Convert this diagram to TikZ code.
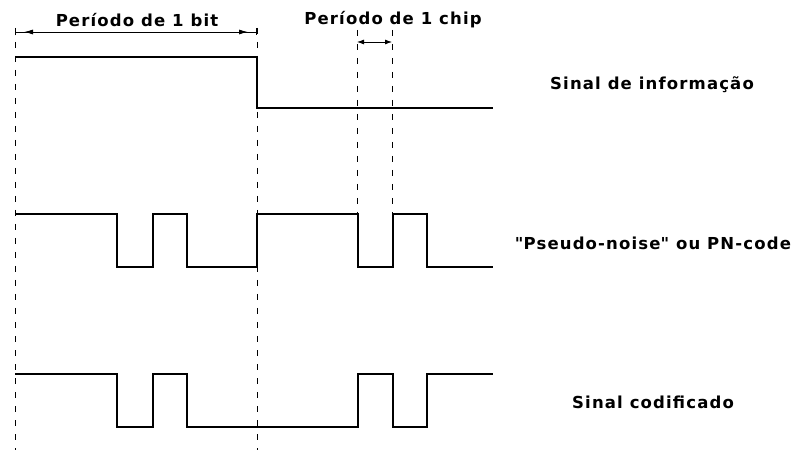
\documentclass[tikz,border=0pt]{standalone}
\usepackage{fontspec}
\setmainfont{DejaVu Sans}
\usepackage{tikz}
\usetikzlibrary{arrows.meta}
\usetikzlibrary{calc}

\tikzset{
	sig/.style={line width=2.6pt, line join=miter},
	codsig/.style={line width=1.6pt, line join=miter},
	grid/.style={line width=1pt, dash pattern=on 6pt off 8pt},
	lbl/.style={font=\addfontfeatures{LetterSpace=7}\bfseries\fontsize{16.5}{18}\selectfont, inner sep=0pt}
}

\begin{document}
\begin{tikzpicture}[x=1pt, y=-1pt]
	
	\useasboundingbox (0, 0) rectangle (803, 454);
	
	% dashed time marks
	\coordinate (b0) at (15, 28);
	\coordinate (b1) at (257, 28);
	\coordinate (c0) at (357, 30);
	\coordinate (c1) at (392, 30);
	
	\draw [grid] (b0) -- +(0, 422);
	\draw [grid] (b1) -- +(0, 422);
	\draw [grid] (c0) -- +(0, 184);
	\draw [grid] (c1) -- +(0, 184);
	
	% periods
	\draw [line width=0.8pt, {Bar[width=7pt]}-{Bar[width=7pt]}] ([yshift=-4pt]b0) -- ([yshift=-4pt]b1);
	\draw [line width=0.8pt, {Latex[length=9pt, width=5pt]}-{Latex[length=9pt, width=5pt]}, shorten <=9pt, shorten >=9pt]
		([yshift=-4pt]b0) -- ([yshift=-4pt]b1);
	\draw [line width=0.8pt, {Latex[length=7pt, width=5pt]}-{Latex[length=7pt, width=5pt]}]
		([yshift=-12pt]c0) -- ([yshift=-12pt]c1);
	
	\node (bit) [lbl] at (137, 20) {Período de 1 bit};
	\node (chip) [lbl] at (393, 20) {Período de 1 chip};
	
	% signals
	\draw [sig] (15, 57) -| (257, 108) -- (493, 108);
	\draw [sig] (15, 214) -| (117, 267) -| (153, 214) -| (187, 267) -| (257, 214) -| (358, 267) -| (393, 214) -| (427, 267) -- (493, 267);
	\draw [codsig] (15, 374) -| (117, 427) -| (153, 374) -| (187, 427) -| (358, 374) -| (393, 427) -| (427, 374) -- (493, 374);
	
	\node (info) [lbl] at (652, 85) {Sinal de informação};
	\node (pn) [lbl] at (653, 243) {\textquotedbl Pseudo-noise\textquotedbl\ ou PN-code};
	\node (cod) [lbl] at (653, 402) {Sinal codificado};
	
\end{tikzpicture}
\end{document}
